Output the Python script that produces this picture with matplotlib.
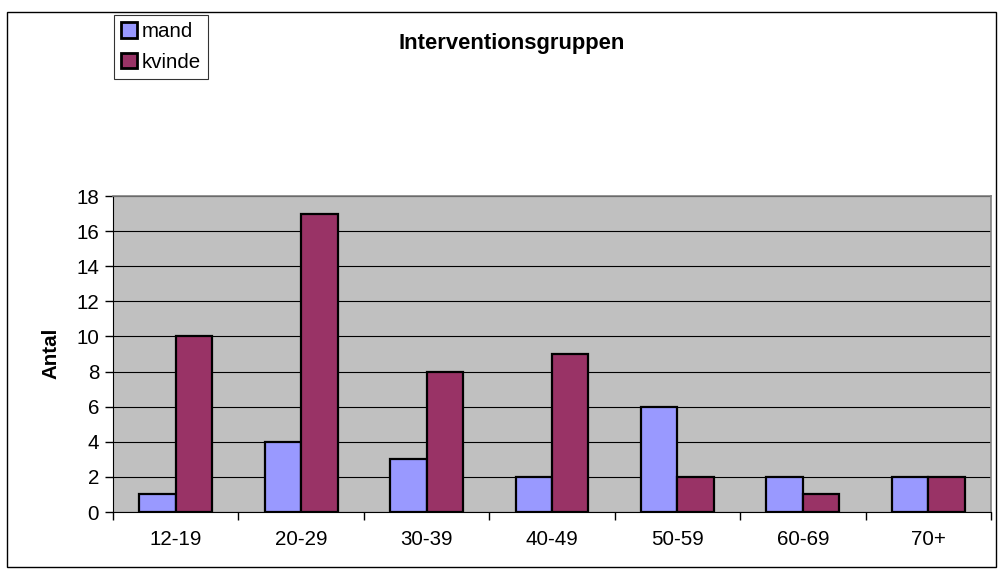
import matplotlib
matplotlib.use("Agg")
import matplotlib.pyplot as plt
from matplotlib.patches import Rectangle
import numpy as np

categories = ["12-19", "20-29", "30-39", "40-49", "50-59", "60-69", "70+"]
mand = [1, 4, 3, 2, 6, 2, 2]
kvinde = [10, 17, 8, 9, 2, 1, 2]
series_names = ["mand", "kvinde"]
yticks = [0, 2, 4, 6, 8, 10, 12, 14, 16, 18]

plt.rcParams["font.family"] = ["Liberation Sans", "DejaVu Sans"]
FS = 14.8

W, H = 1004, 574
fig = plt.figure(figsize=(W / 100, H / 100), dpi=100)

# outer chart border
fig.patches.append(Rectangle((7 / W, 1 - 567 / H), (996 - 7) / W, (567 - 12) / H,
                             transform=fig.transFigure, fill=False,
                             edgecolor="black", linewidth=1.0))

left, right, top, bottom = 113, 991, 196, 512
ax = fig.add_axes([left / W, 1 - bottom / H, (right - left) / W, (bottom - top) / H])
ax.set_facecolor("#C0C0C0")

x = np.arange(len(categories))
bw = 0.29
b1 = ax.bar(x - bw / 2, mand, bw, color="#9999FF", edgecolor="black", linewidth=1.6,
            label=series_names[0], zorder=3)
b2 = ax.bar(x + bw / 2, kvinde, bw, color="#993366", edgecolor="black", linewidth=1.6,
            label=series_names[1], zorder=3)

ax.set_xlim(-0.5, len(categories) - 0.5)
ax.set_ylim(0, 18)
ax.set_yticks(yticks)
ax.set_yticklabels([str(v) for v in yticks], fontsize=FS)
ax.yaxis.grid(True, color="black", linewidth=0.8, zorder=1)
ax.set_axisbelow(True)

# category labels centered, tick marks at group boundaries
ax.set_xticks(x)
ax.set_xticklabels(categories, fontsize=FS)
ax.tick_params(axis="x", length=0, pad=13)
ax.set_xticks(np.arange(len(categories) + 1) - 0.5, minor=True)
ax.tick_params(axis="x", which="minor", length=6, width=1, color="black", direction="out")
ax.tick_params(axis="y", length=6, width=1, direction="out", pad=4)

for s in ["top", "right"]:
    ax.spines[s].set_color("#808080")
    ax.spines[s].set_linewidth(1.2)
ax.spines["left"].set_color("black")
ax.spines["bottom"].set_color("black")

ax.set_ylabel("Antal", fontsize=FS, fontweight="bold")
ax.yaxis.label.set_va("center")
ax.yaxis.set_label_coords((51 - left) / (right - left), (512 - 353) / (bottom - top))

fig.text(512 / W, 1 - 43 / H, "Interventionsgruppen", ha="center", va="center",
         fontsize=15.8, fontweight="bold")

leg = fig.legend(handles=[b1, b2], labels=series_names, loc="upper left",
                 bbox_to_anchor=(114 / W, 1 - 15 / H), fontsize=FS, frameon=True,
                 fancybox=False, edgecolor="black", handlelength=0.75, handleheight=0.75,
                 handletextpad=0.25, borderpad=0.35, labelspacing=0.55, borderaxespad=0)
leg.get_frame().set_linewidth(0.8)
for h in leg.legend_handles:
    h.set_linewidth(2.0)

fig.savefig("out.png", dpi=100)
